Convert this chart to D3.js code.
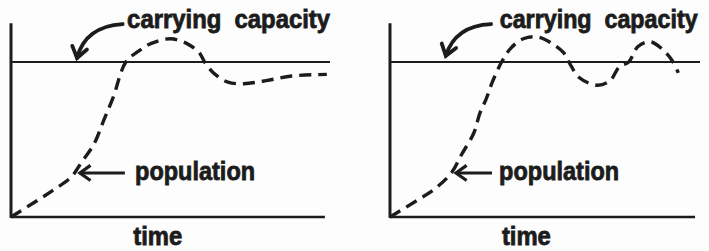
<!DOCTYPE html>
<html>
<head>
<meta charset="utf-8">
<script src="https://cdn.jsdelivr.net/npm/d3@7"></script>
<style>
  body { margin: 0; background: #fdfdfd; }
  svg { display: block; }
  .lbl { font-family: "Liberation Sans", Arial, sans-serif; font-weight: bold; font-size: 25px;
         fill: #1c1c1c; stroke: #1c1c1c; stroke-width: 0.8px; white-space: pre; }
</style>
</head>
<body>
<div id="chart"></div>
<script>
// population (carrying capacity = 100), time 0..100
var timeA = [0, 7, 13, 19, 22, 26, 29, 32, 36, 40, 44, 50, 55, 59, 61, 64, 68, 73, 80, 88, 99];
var popA  = [0, 9, 17, 26, 35, 47, 62, 77, 100, 107, 112, 115, 112, 106, 99, 92, 87, 86, 88, 91, 92];

var timeB = [0, 9, 15, 20, 23, 27, 29, 31, 33, 36, 39, 43, 48, 53, 56, 58, 61, 67, 71, 74, 77, 80, 84, 88, 91, 93];
var popB  = [0, 11, 19, 29, 40, 54, 67, 76, 87, 100, 109, 115, 116, 111, 106, 99, 90, 85, 88, 97, 100, 110, 113, 108, 101, 93];

var capacity = 100;

var labels = { k: "carrying  capacity", pop: "population", x: "time" };

// annotation anchors in data units [time, pop]
var notesA = { kText: [36.4, 122], kFrom: [35, 124.5], kCtrl: [23.2, 123], kTip: [20.7, 102.6],
               pText: [38.9, 24], pFrom: [35.7, 28.4], pTip: [21.6, 28.4], xText: [46, -18] };
var notesB = { kText: [35.4, 122], kFrom: [32.6, 124.5], kCtrl: [21, 123.5], kTip: [18, 104],
               pText: [35.2, 24], pFrom: [32.9, 28.4], pTip: [21.3, 28.4], xText: [44, -18] };

var W = 709, H = 251;
var svg = d3.select("#chart").append("svg").attr("width", W).attr("height", H);

var y = d3.scaleLinear().domain([0, capacity]).range([217, 62]);

// text squeezed horizontally to a given width (anchor: 0 = start, 0.5 = middle)
function label(g, str, px, py, width, anchor) {
    var t = g.append("text").attr("class", "lbl").text(str);
    var sx = width / t.node().getComputedTextLength();
    var x0 = px - anchor * width;
    t.attr("transform", "translate(" + x0 + "," + py + ") scale(" + sx + ",1)");
}

function drawPanel(xRange, times, pops, n, textLen) {
    var x = d3.scaleLinear().domain([0, 100]).range(xRange);
    var g = svg.append("g");
    var ink = "#1c1c1c";

    // axes
    g.append("line").attr("x1", x(0)).attr("x2", x(0)).attr("y1", y(125)).attr("y2", y(-0.6))
        .attr("stroke", ink).attr("stroke-width", 3);
    g.append("line").attr("x1", x(0)).attr("x2", x(98.4)).attr("y1", y(0)).attr("y2", y(0))
        .attr("stroke", ink).attr("stroke-width", 2.6);
    // carrying capacity
    g.append("line").attr("x1", x(0)).attr("x2", x(100)).attr("y1", y(capacity)).attr("y2", y(capacity))
        .attr("stroke", ink).attr("stroke-width", 2.2);

    // population curve
    var pts = times.map(function(t, i) { return [t, pops[i]]; });
    var line = d3.line()
        .x(function(d) { return x(d[0]); })
        .y(function(d) { return y(d[1]); })
        .curve(d3.curveCatmullRom.alpha(0.5));
    g.append("path").attr("d", line(pts))
        .attr("fill", "none").attr("stroke", ink).attr("stroke-width", 3.4)
        .attr("stroke-dasharray", "12,7");

    function P(d) { return [x(d[0]), y(d[1])]; }
    function head(tip, from) {
        var a = Math.atan2(tip[1] - from[1], tip[0] - from[0]);
        var L = 13, s = 0.62;
        var p1 = [tip[0] - L * Math.cos(a - s), tip[1] - L * Math.sin(a - s)];
        var p2 = [tip[0] - L * Math.cos(a + s), tip[1] - L * Math.sin(a + s)];
        return "M" + p1 + "L" + tip + "L" + p2;
    }

    // carrying capacity arrow
    var s = P(n.kFrom), c = P(n.kCtrl), t = P(n.kTip);
    g.append("path").attr("d", "M" + s + "Q" + c + " " + t)
        .attr("fill", "none").attr("stroke", ink).attr("stroke-width", 3.8).attr("stroke-linecap", "round");
    g.append("path").attr("d", head(t, c))
        .attr("fill", "none").attr("stroke", ink).attr("stroke-width", 3.8)
        .attr("stroke-linecap", "round").attr("stroke-linejoin", "miter");

    // population arrow
    var ps = P(n.pFrom), pt = P(n.pTip);
    g.append("path").attr("d", "M" + ps + "L" + pt)
        .attr("fill", "none").attr("stroke", ink).attr("stroke-width", 2.8);
    g.append("path").attr("d", head(pt, ps))
        .attr("fill", "none").attr("stroke", ink).attr("stroke-width", 3.2);

    // labels
    label(g, labels.k, x(n.kText[0]), y(n.kText[1]), textLen, 0);
    label(g, labels.pop, x(n.pText[0]), y(n.pText[1]), 120, 0);
    label(g, labels.x, x(n.xText[0]), y(n.xText[1]), 49, 0.5);
}

drawPanel([11, 330], timeA, popA, notesA, 203);
drawPanel([390, 700], timeB, popB, notesB, 198);
</script>
</body>
</html>
